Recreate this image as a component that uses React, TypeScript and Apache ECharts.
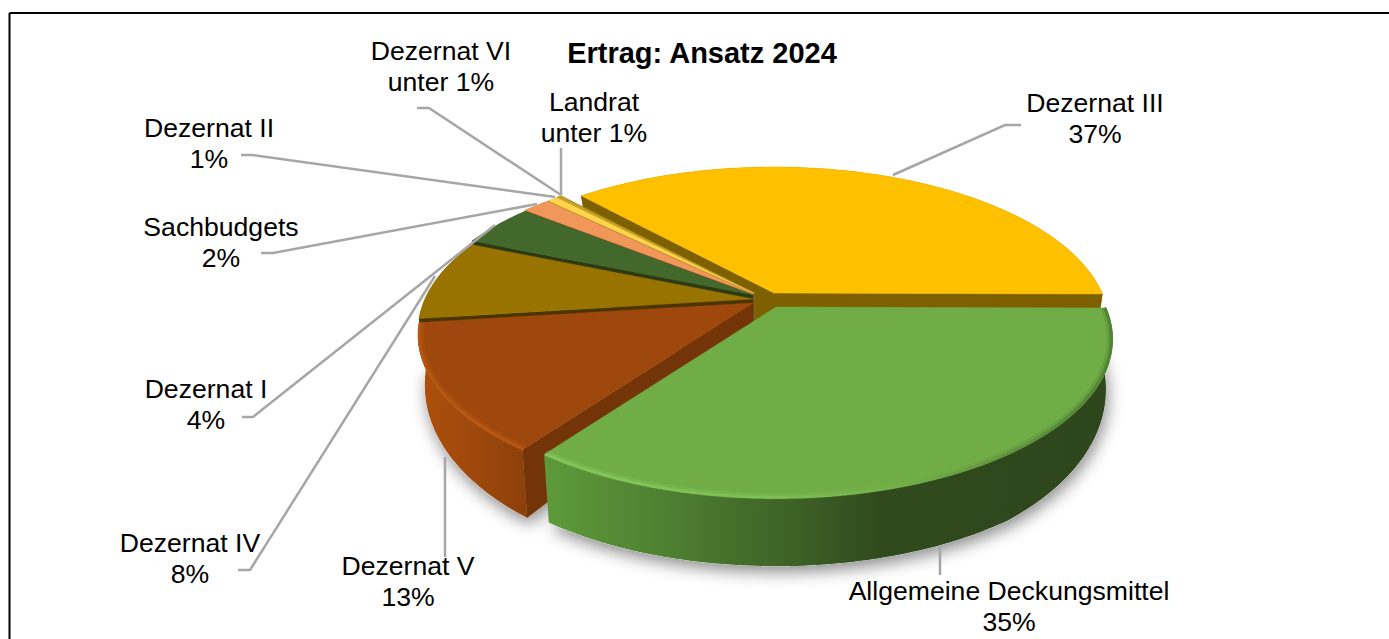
import React, { useEffect, useRef } from "react";
import * as echarts from "echarts";

const titleText = "Ertrag: Ansatz 2024";
const categories = ["Dezernat III", "Allgemeine Deckungsmittel", "Dezernat V", "Dezernat IV", "Dezernat I", "Sachbudgets", "Dezernat II", "Dezernat VI", "Landrat"];
const shares = [36.9, 34.9, 13.0, 8.3, 4.4, 1.6, 0.6, 0.2, 0.1];
const shareLabels = ["37%", "35%", "13%", "8%", "4%", "2%", "1%", "unter 1%", "unter 1%"];
const drawOrder = [0, 8, 7, 6, 5, 4, 3, 2, 1];

const topColors = ["#ffc000", "#70ad47", "#9e480e", "#997300", "#43682b", "#f1975a", "#ffd54a", "#c9a227", "#a98a20"];
const cutColors = ["#7f6000", "#34501f", "#733508", "#4a3500", "#2b3a12", "#8a4a20", "#8a7020", "#8a7020", "#8a7020"];
const offsets: number[][] = [[21, -5], [23, 9], [0, 5], [0, 1], [0, -3], [0, -4], [1, -4.5], [1, -5], [1, -5]];
const radii = [1, 1.005, 1, 1, 1, 1, 1, 1, 1];
const wallStops: any[] = [
  null,
  [[0, "#5e9a3b"], [0.2, "#4f8232"], [0.42, "#3e6427"], [0.6, "#30491d"], [1, "#2e461b"]],
  [[0, "#ae500c"], [0.45, "#a0490c"], [1, "#8c400a"]],
  null, null, null, null, null, null,
];
const rimStops: any[] = [
  null,
  [[0, "#8acb5e"], [0.4, "#7fc254"], [0.62, "#74b04b"], [0.82, "#5c8f3a"], [1, "#4a7a2e"]],
  [[0, "#b9590f"], [0.6, "#bd5a12"], [1, "#b9590f"]],
  null, null, null, null, null, null,
];

const labelPlaces: number[][] = [[1095, 103], [1009, 591], [408, 566], [190, 543], [206, 389], [221, 227], [209, 128], [441, 51], [594, 102]];
const leaderPaths: number[][][] = [
  [[1021, 125], [1005, 125], [893, 175]],
  [[940, 575], [940, 547]],
  [[445, 557], [445, 457]],
  [[238, 570], [250, 570], [435, 276]],
  [[242, 417], [253, 417], [495, 225]],
  [[261, 253], [273, 253], [537, 204]],
  [[241, 155], [253, 155], [555, 197]],
  [[417, 108], [429, 108], [561, 195]],
  [[561, 148], [561, 195]],
];

const BASE = [753, 298];
const R = 328;
const RY = 151.5;
const P = 0.2026;
const START = -42.5;
const total = shares.reduce((a, b) => a + b, 0);

const spans: number[][] = [];
shares.reduce((from, s) => {
  const to = from + (s / total) * 360;
  spans.push([from, to]);
  return to;
}, START);

const topPoint = (i: number, deg: number, r = 1) => {
  const t = (deg * Math.PI) / 180;
  const u = r * radii[i] * Math.sin(t);
  const v = -r * radii[i] * Math.cos(t);
  const s = 1 / (1 - P * v);
  return [BASE[0] + offsets[i][0] + R * u * s, BASE[1] + offsets[i][1] + RY * v * s, v];
};
const lowPoint = (i: number, p: number[]) => {
  const ax = BASE[0] + offsets[i][0];
  return [ax + (p[0] - ax) * 0.98, p[1] + Math.min(44 + 30 * p[2], 68)];
};
const arc = (i: number, r = 1) => {
  const [a, b] = spans[i];
  const n = Math.max(2, Math.ceil(b - a));
  return Array.from({ length: n + 1 }, (_, k) => topPoint(i, a + ((b - a) * k) / n, r));
};
const xy = (p: number[]) => [p[0], p[1]];
const hgrad = (stops: any[]) => ({
  type: "linear", x: 0, y: 0, x2: 1, y2: 0,
  colorStops: stops.map(([offset, color]) => ({ offset, color })),
});
// A cut wall shows only when its outward normal points towards the viewer.
const faces = (deg: number) => -Math.cos((deg * Math.PI) / 180) > 0;

const renderShadow = (_: any, api: any) => {
  const i = drawOrder[api.value(0)];
  if (!wallStops[i]) return { type: "group", children: [] };
  const points = [lowPoint(i, topPoint(i, 0, 0)), ...arc(i).map((p) => lowPoint(i, p))];
  return {
    type: "polygon",
    shape: { points },
    style: { fill: "#ffffff", shadowColor: "rgba(0,0,0,0.45)", shadowBlur: 16, shadowOffsetY: 6, shadowOffsetX: 2 },
  };
};

const renderSlice = (_: any, api: any) => {
  const i = drawOrder[api.value(0)];
  const rim = arc(i);
  const apex = topPoint(i, 0, 0);
  const apexLow = lowPoint(i, apex);
  const children: any[] = [];
  const wallFill = wallStops[i] ? hgrad(wallStops[i]) : cutColors[i];
  children.push({
    type: "polygon",
    shape: { points: [...rim.map(xy), ...rim.slice().reverse().map((p) => lowPoint(i, p))] },
    style: { fill: wallFill },
  });
  const cuts: [number[], number][] = [
    [rim[0], spans[i][0] - 90],
    [rim[rim.length - 1], spans[i][1] + 90],
  ];
  cuts.forEach(([c, normal]) => {
    if (!faces(normal)) return;
    children.push({
      type: "polygon",
      shape: { points: [xy(apex), xy(c), lowPoint(i, c), apexLow] },
      style: { fill: cutColors[i], stroke: cutColors[i], lineWidth: 0.5 },
    });
  });
  children.push({
    type: "polygon",
    shape: { points: [xy(apex), ...rim.map(xy)] },
    style: { fill: topColors[i], stroke: topColors[i], lineWidth: 0.5 },
  });
  if (rimStops[i]) {
    children.push({
      type: "polyline",
      shape: { points: arc(i, 0.992).map(xy) },
      style: { fill: "none", stroke: hgrad(rimStops[i]), lineWidth: 6, opacity: 0.3 },
    });
    children.push({
      type: "polyline",
      shape: { points: arc(i, 0.996).map(xy) },
      style: { fill: "none", stroke: hgrad(rimStops[i]), lineWidth: 3, opacity: 0.75 },
    });
  }
  return { type: "group", children };
};

const renderLabel = (_: any, api: any) => {
  const i = api.value(0);
  const [x, y] = labelPlaces[i];
  const font = '26.6px "Liberation Sans", Arial, sans-serif';
  return {
    type: "group",
    children: [
      { type: "polyline", shape: { points: leaderPaths[i] }, style: { fill: "none", stroke: "#a6a6a6", lineWidth: 2.5 } },
      { type: "text", style: { text: categories[i], x, y, font, fill: "#000", align: "center", verticalAlign: "middle" } },
      { type: "text", style: { text: shareLabels[i], x, y: y + 31, font, fill: "#000", align: "center", verticalAlign: "middle" } },
    ],
  };
};

export default function App() {
  const ref = useRef<HTMLDivElement>(null);
  useEffect(() => {
    document.body.style.margin = "0";
    const chart = echarts.init(ref.current!, undefined, { renderer: "svg" });
    chart.setOption({
      animation: false,
      backgroundColor: "#ffffff",
      title: {
        text: titleText,
        left: 697,
        top: 33,
        textAlign: "center",
        textStyle: { fontFamily: '"Liberation Sans", Arial, sans-serif', fontWeight: "bold", fontSize: 29, color: "#000" },
      },
      graphic: [
        { type: "line", silent: true, shape: { x1: 9.5, y1: 13, x2: 1389, y2: 13 }, style: { stroke: "#000", lineWidth: 2 } },
        { type: "line", silent: true, shape: { x1: 9.5, y1: 13, x2: 9.5, y2: 639 }, style: { stroke: "#000", lineWidth: 2 } },
      ],
      series: [
        { type: "custom", coordinateSystem: "none", silent: true, z: 1, data: drawOrder.map((_, k) => [k]), renderItem: renderShadow },
        { type: "custom", coordinateSystem: "none", silent: true, z: 2, data: drawOrder.map((_, k) => [k]), renderItem: renderSlice },
        { type: "custom", coordinateSystem: "none", silent: true, z: 3, data: categories.map((_, k) => [k]), renderItem: renderLabel },
      ],
    });
    return () => chart.dispose();
  }, []);
  return <div ref={ref} style={{ width: 1389, height: 639 }} />;
}
